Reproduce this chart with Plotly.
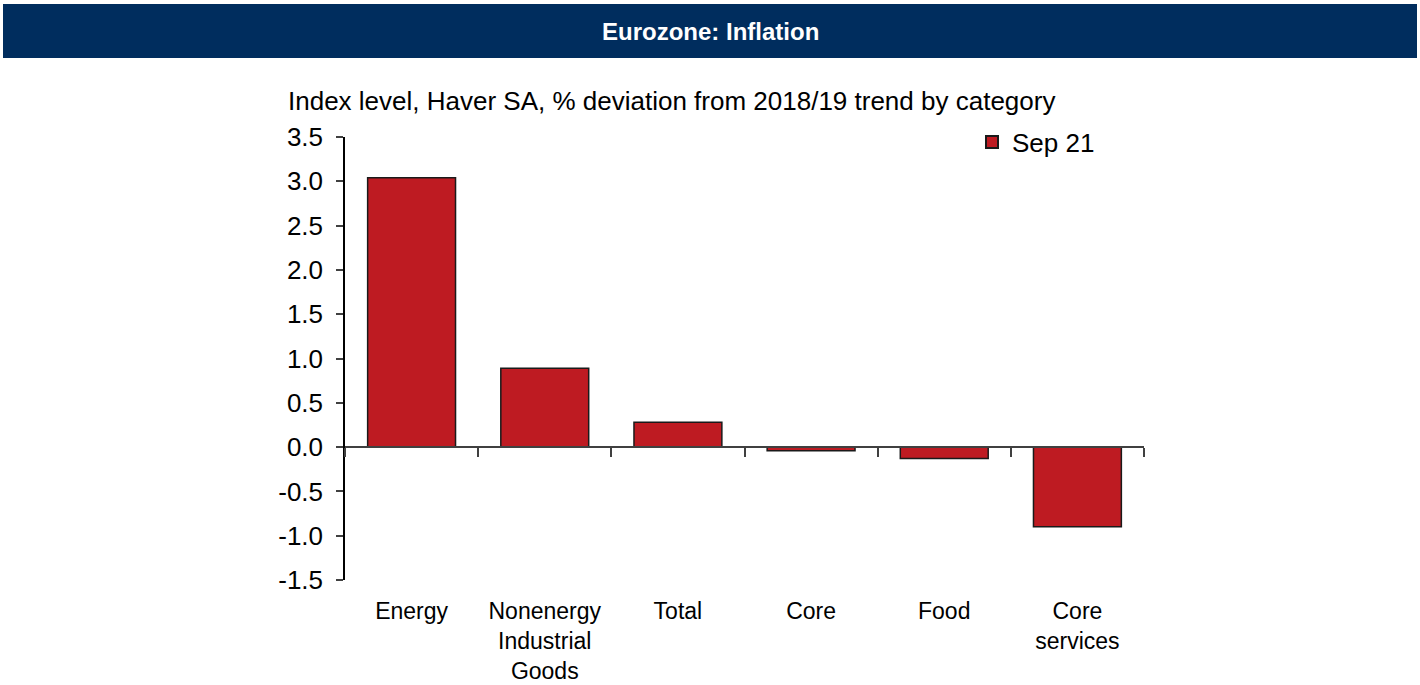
import plotly.graph_objects as go

categories = ["Energy", "Nonenergy<br>Industrial<br>Goods", "Total", "Core", "Food", "Core<br>services"]
values_sep21 = [3.04, 0.89, 0.28, -0.04, -0.13, -0.90]
series_name = "Sep 21"
y_ticks = [-1.5, -1.0, -0.5, 0.0, 0.5, 1.0, 1.5, 2.0, 2.5, 3.0, 3.5]
y_tick_labels = ["-1.5", "-1.0", "-0.5", "0.0", "0.5", "1.0", "1.5", "2.0", "2.5", "3.0", "3.5"]

W, H = 1420, 685
L, R, T, B = 345, 1144, 137, 580  # plot area pixel bounds
FONT = "Liberation Sans, Arial, sans-serif"
FS = 26
ymin, ymax = -1.5, 3.5

def px_x(x):
    return (x - L) / (R - L)

def px_y(y):
    return (B - y) / (B - T)

fig = go.Figure()
fig.add_trace(go.Bar(
    x=categories, y=values_sep21, name=series_name,
    marker=dict(color="#BE1B22", line=dict(color="#1a1a1a", width=1.5)),
    xaxis="x", yaxis="y", showlegend=True,
))
# invisible trace to carry the zero-crossing axis
fig.add_trace(go.Scatter(
    x=categories, y=[0] * len(categories), mode="markers",
    marker=dict(opacity=0), xaxis="x2", yaxis="y", showlegend=False, hoverinfo="skip",
))

fig.update_layout(
    width=W, height=H,
    margin=dict(l=L, r=W - R, t=T, b=H - B, autoexpand=False),
    paper_bgcolor="white", plot_bgcolor="white",
    font=dict(family=FONT, size=FS, color="black"),
    bargap=0.34,
    showlegend=True,
    legend=dict(x=px_x(972), y=px_y(142), xanchor="left", yanchor="middle",
                bgcolor="rgba(0,0,0,0)", font=dict(size=FS, family=FONT),
                itemsizing="constant", tracegroupgap=0),
    xaxis=dict(
        categoryorder="array", categoryarray=categories, automargin=False,
        showline=False, ticks="", showgrid=False, zeroline=False,
        tickfont=dict(size=23, family=FONT), ticklabelstandoff=15,
    ),
    xaxis2=dict(
        overlaying="x", matches="x", anchor="free", automargin=False,
        position=(0 - ymin) / (ymax - ymin),
        categoryorder="array", categoryarray=categories,
        showline=True, linecolor="#404040", linewidth=1.5,
        ticks="outside", tickson="boundaries", ticklen=9, tickwidth=1.5, tickcolor="#404040",
        showticklabels=False, showgrid=False, zeroline=False,
    ),
    yaxis=dict(
        range=[ymin, ymax], tickvals=y_ticks, ticktext=y_tick_labels, automargin=False,
        showline=True, linecolor="black", linewidth=1.5,
        ticks="outside", ticklen=7, tickwidth=1.5, tickcolor="#404040",
        showgrid=False, zeroline=False,
        tickfont=dict(size=FS, family=FONT), ticklabelstandoff=8,
    ),
    shapes=[dict(
        type="rect", xref="paper", yref="paper",
        x0=px_x(3), x1=px_x(1417), y0=px_y(58), y1=px_y(4),
        fillcolor="#002D5E", line=dict(width=0), layer="below",
    )],
    annotations=[
        dict(text="<b>Eurozone: Inflation</b>", xref="paper", yref="paper",
             x=px_x(710), y=px_y(31), xanchor="center", yanchor="middle",
             showarrow=False, font=dict(size=24, color="white", family=FONT)),
        dict(text="Index level, Haver SA, % deviation from 2018/19 trend by category",
             xref="paper", yref="paper", x=px_x(286), y=px_y(101),
             xanchor="left", yanchor="middle", showarrow=False,
             font=dict(size=FS, color="black", family=FONT)),
    ],
)

fig.write_html(
    "out.html",
    config={"displayModeBar": False},
    post_script="document.body.style.margin='0';document.body.style.overflow='hidden';",
)
